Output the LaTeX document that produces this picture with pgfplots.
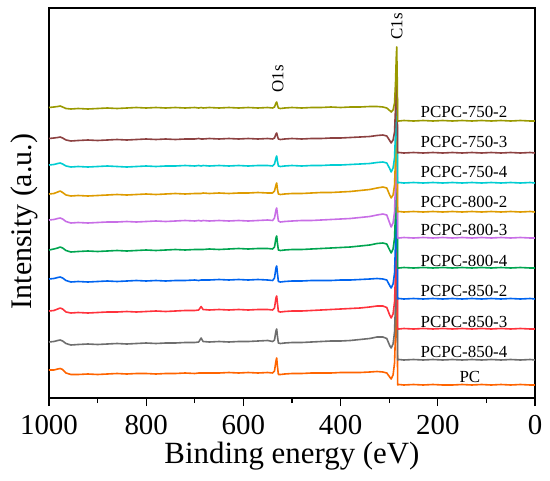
\documentclass[border=0pt]{standalone}
\usepackage{pgfplots}
\usepackage{pgfplotstable}
\pgfplotsset{compat=1.18}
\usepackage{fontspec}
\setmainfont{Liberation Serif}
\definecolor{colA}{RGB}{153,153,0}
\definecolor{colB}{RGB}{140,65,65}
\definecolor{colC}{RGB}{0,205,210}
\definecolor{colD}{RGB}{222,155,0}
\definecolor{colE}{RGB}{200,110,230}
\definecolor{colF}{RGB}{0,165,80}
\definecolor{colG}{RGB}{0,100,240}
\definecolor{colH}{RGB}{255,50,60}
\definecolor{colI}{RGB}{110,110,110}
\definecolor{colJ}{RGB}{255,100,0}
\pgfplotstableread{
x a b c d e f g h i j
1000 290.5 259.5 233 204 178 148 119 87 56 28
990 291 260 233.5 204.5 178.5 149 119.5 87.5 56.5 28
982 291.5 260.5 234.5 206 179.5 150 120.5 89 57.5 29
977 292 261 235 207 180 151 121 90 58 29.5
972 291 260 234 205.5 179 150 120 89 57 28.5
965 289.5 258 232 203 176.5 147.5 117.5 86 54.5 25
955 289 257 231 202 175 146 116 85 53 23.5
940 289.5 257.5 231.5 202.5 175.5 146.5 116.5 85.5 53.5 23.5
920 289 258 231 202 175 147 116 85 54 24
900 289.5 257.5 231.5 202.5 175.5 146.5 116.5 85.5 53.5 23.5
880 290 258 232 203 176 147 117 86 54 24
860 289.5 258.5 231.5 203.5 176 147.5 116.5 86 54.5 24.5
840 290 258 231 203 176.5 147 117 86.5 54 24
820 290.5 258.5 231.5 203.5 176 147.5 117.5 86 54.5 24.5
800 290 259 232 204 176.5 148 117 86.5 55 24.5
780 290.5 258.5 231.5 203.5 177 147.5 117.5 87 54.5 24
760 290 259 232 204 176.5 148 117 86.5 55 24.5
740 290.5 258.5 232 204.5 177 148.5 117.5 87 55 24.5
720 290 259 232.5 204 177.5 148 117.5 87.5 55.5 25
700 290.5 259 232 204.5 177 148.5 118 87.5 55.5 24.5
692 290 259.5 232.5 204.5 177.5 148.5 117.5 88 56 25
687 290.5 259 232 204.5 177 148.5 118 91.5 60 25
683 290 259 232.5 205 177.5 148.5 118 88.5 56.5 25
670 290.5 259.5 232 204.5 177 149 118 88 56 25
650 290 259 232.5 205 177.5 148.5 118.5 88.5 56.5 25
630 290.5 259.5 232 204.5 177 149 118 88 56 25.5
610 290 259 232.5 205 177.5 149.5 118.5 88.5 56.5 25
590 290.5 259.5 232 205 177 149 118 88 56.5 25.5
570 290 259 232.5 205.5 177.5 149.5 118.5 88.5 57 25
550 290.5 259.5 232.5 205 178 149.5 118 88.5 57.5 25.5
540 290 259 232 205 177.5 149 117.5 88 56.5 25
536 291 260 234 207 180 151 120 90 58 27
533 295 264 240 213 188 160 130 100 67 37
531.5 296 265 242 215 190 162 132 102 69 40
530 293 262 237 209 184 155 125 95 62 32
528 290 259 232 204 177 148 116.5 86.5 55 23.5
524 289.5 258.5 231.5 203.5 176 147.5 116 86 54.5 23.5
515 290 259 232 204 176.5 148 116.5 86.5 55 24
500 290.5 259.5 232.5 204.5 177 148.5 117 87 55.5 24.5
480 290 259 232 204.5 177.5 148.5 117 87 55.5 24.5
460 290.5 259.5 232.5 205 177.5 149 117.5 87.5 56 25
440 290.5 259.5 232.5 205.5 178 149.5 117.5 88 56.5 25
420 291 260 233 205.5 178.5 150 117.5 88.5 57 25
400 290.5 260 233 206 179 150.5 118 89 57 25.5
380 291 260.5 233.5 206.5 179.5 151 118 89.5 57.5 25.5
360 291 261 234 207.5 180.5 152 118.5 90 58.5 25.5
340 291.5 261.5 234.5 208.5 181.5 153 119 91 59.5 26
325 291.5 262.5 235.5 210 183 154.5 119.5 92 61 26.5
313 291 263 236 211 184 155 119 92 61 26
305 290 262 235 210 183 154 118 90.5 59.5 25
299 287.5 257.5 229.5 203 175 148 112.5 83 52.5 21
296 286 255 226 200 171 145 110 80 50 19
292 288 258 230 203 175 149 114 84 54 23
289 295 266 240 213 186 160 125 96 66 35
287 315 290 265 240 215 185 155 125 95 65
285.5 340 320 290 265 240 210 180 150 120 90
284.5 351 330 300 275 250 220 190 160 130 100
283.5 320 300 270 245 220 190 160 130 100 70
282.5 277 245 215 186 160 130 99 69 38 13
280 277 245.5 215.5 186.5 160 130 99.5 69 38.5 13.5
270 277.5 245 215 186 160.5 130.5 99 69.5 38 13
250 277 245.5 215.5 186.5 160 130 99.5 69 38.5 13.5
230 277.5 245 215 186 160.5 130.5 99 69.5 38 13
210 277 245.5 215.5 186.5 160 130 99.5 69 38.5 13.5
190 277.5 245 215 186 160.5 130.5 99 69.5 38 13
170 277 245.5 215.5 186.5 160 130 99.5 69 38.5 13
150 277.5 245 215 186 160.5 130.5 99 69.5 38 13.5
130 277 245.5 215.5 186.5 160 130 99.5 69 38.5 13
110 277.5 245 215 186 160.5 130.5 99 69.5 38 13.5
90 277 245.5 215.5 186.5 160 130 99.5 69 38.5 13
70 277.5 245 215 186 160.5 130.5 99 69.5 38 13.5
50 277 245.5 215.5 186.5 160 130 99.5 69 38.5 13
30 277.5 245 215 186 160.5 130.5 99 69.5 38 13.5
10 277 245.5 215.5 186.5 160 130 99.5 69 38.5 13
0 277 245 215 186 160 130 99 69 38 13
}\xps
\begin{document}
\begin{tikzpicture}
\begin{axis}[
  name=ax,
  scale only axis,
  width=486bp, height=390bp,
  x dir=reverse,
  xmin=0, xmax=1000, ymin=0, ymax=390,
  xtick={0,200,400,600,800,1000},
  minor x tick num=1,
  ytick=\empty,
  xtick pos=bottom,
  tick align=outside,
  major tick length=8bp,
  minor tick length=5bp,
  every tick/.style={black, line width=1.2bp},
  axis line style={line width=1.2bp},
  /pgf/number format/assume math mode=true,
  /pgf/number format/1000 sep={},
  xticklabel style={font=\fontsize{29}{30}\selectfont, anchor=base, yshift=-28.5bp},
  xlabel={Binding energy (eV)},
  ylabel={Intensity (a.u.)},
  xlabel style={font=\fontsize{31}{32}\selectfont, at={(axis description cs:0.5,-0.1667)}, anchor=base},
  ylabel style={font=\fontsize{30}{31}\selectfont, at={(axis description cs:-0.035,0.4526)}, anchor=base, rotate=0},
  every axis plot/.append style={line width=1.6bp, mark=none, line join=round},
  clip=true,
]
\addplot[colJ] table[x=x,y=j]{\xps};
\addplot[colI] table[x=x,y=i]{\xps};
\addplot[colH] table[x=x,y=h]{\xps};
\addplot[colG] table[x=x,y=g]{\xps};
\addplot[colF] table[x=x,y=f]{\xps};
\addplot[colE] table[x=x,y=e]{\xps};
\addplot[colD] table[x=x,y=d]{\xps};
\addplot[colC] table[x=x,y=c]{\xps};
\addplot[colB] table[x=x,y=b]{\xps};
\addplot[colA] table[x=x,y=a]{\xps};
\begin{scope}[every node/.style={font=\fontsize{17}{18}\selectfont, inner sep=0pt}]
\node at (axis cs:146,286) {PCPC-750-2};
\node at (axis cs:146,256) {PCPC-750-3};
\node at (axis cs:146,226) {PCPC-750-4};
\node at (axis cs:146,196) {PCPC-800-2};
\node at (axis cs:146,168) {PCPC-800-3};
\node at (axis cs:146,137) {PCPC-800-4};
\node at (axis cs:146,107) {PCPC-850-2};
\node at (axis cs:146,76) {PCPC-850-3};
\node at (axis cs:146,46) {PCPC-850-4};
\node at (axis cs:134,21) {PC};
\node[rotate=90] at (axis cs:284.5,371.5) {C1s};
\node[rotate=90] at (axis cs:529,319) {O1s};
\end{scope}
\end{axis}
\pgfresetboundingbox
\path (ax.south west) ++(-49bp,-83bp) rectangle ++(550bp,481bp);
\end{tikzpicture}
\end{document}
